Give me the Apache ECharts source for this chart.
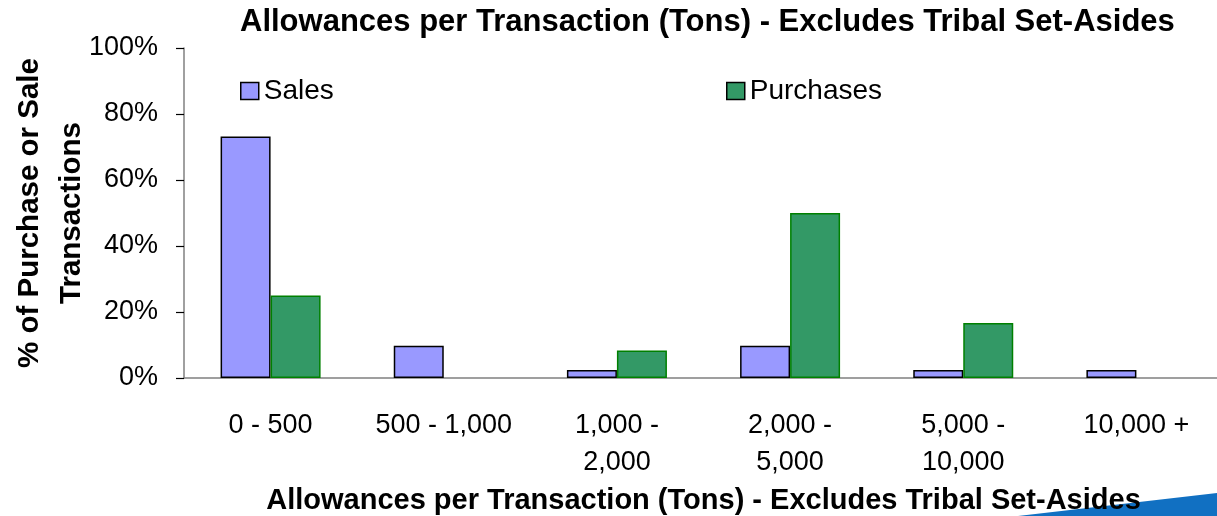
<!DOCTYPE html>
<html>
<head>
<meta charset="utf-8">
<script src="https://cdn.jsdelivr.net/npm/echarts@6/dist/echarts.min.js"></script>
<style>
  html, body { margin: 0; padding: 0; background: #fff; }
  #chart { width: 1217px; height: 516px; }
</style>
</head>
<body>
<div id="chart"></div>
<script>
const titleText = 'Allowances per Transaction (Tons) - Excludes Tribal Set-Asides'
const categories = ['0 - 500', '500 - 1,000', '1,000 -\n2,000', '2,000 -\n5,000', '5,000 -\n10,000', '10,000 +']
const salesPct = [73.2, 9.8, 2.4, 9.8, 2.4, 2.4]
// empty categories have no purchase bar in the picture
const purchasesPct = [25, null, 8.3, 50, 16.7, null]
const yTicks = [0, 20, 40, 60, 80, 100]

const font = '"Liberation Sans", Arial, sans-serif'
const chart = echarts.init(document.getElementById('chart'), null, { renderer: 'canvas' })

const legendBase = {
  top: 72,
  icon: 'rect',
  itemWidth: 18,
  itemHeight: 17,
  itemGap: 0,
  itemStyle: { borderColor: '#000', borderWidth: 1.5 },
  textStyle: { fontFamily: font, fontSize: 28, color: '#000', padding: [0, 0, 0, 0] }
}

chart.setOption({
  animation: false,
  textStyle: { fontFamily: font },
  title: {
    text: titleText,
    left: 235,
    top: 2,
    textStyle: { fontFamily: font, fontSize: 31, fontWeight: 'bold', color: '#000' }
  },
  legend: [
    Object.assign({}, legendBase, { data: ['Sales'], left: 235 }),
    Object.assign({}, legendBase, { data: ['Purchases'], left: 721 })
  ],
  grid: { left: 184, right: -6, top: 48, bottom: 138, outerBoundsMode: 'none', containLabel: false },
  xAxis: {
    type: 'category',
    data: categories,
    name: titleText,
    nameLocation: 'middle',
    nameGap: 108,
    nameTextStyle: { fontFamily: font, fontSize: 29, fontWeight: 'bold', color: '#000' },
    axisLine: { lineStyle: { color: '#808080', width: 1.5 } },
    axisTick: { length: 8, lineStyle: { color: '#000', width: 1.2 } },
    axisLabel: {
      margin: 29,
      fontFamily: font,
      fontSize: 27,
      lineHeight: 37,
      color: '#000',
      interval: 0
    }
  },
  yAxis: {
    type: 'value',
    min: yTicks[0],
    max: yTicks[yTicks.length - 1],
    interval: 20,
    name: '% of Purchase or Sale\nTransactions',
    nameLocation: 'middle',
    nameRotate: 90,
    nameGap: 91,
    nameMoveOverlap: false,
    nameTextStyle: { fontFamily: font, fontSize: 29.5, fontWeight: 'bold', color: '#000', lineHeight: 42 },
    axisLine: { show: true, lineStyle: { color: '#808080', width: 1.5 } },
    axisTick: { show: true, length: 8, lineStyle: { color: '#000', width: 1.2 } },
    splitLine: { show: false },
    axisLabel: {
      margin: 26,
      fontFamily: font,
      fontSize: 27,
      color: '#000',
      formatter: '{value}%'
    }
  },
  graphic: [
    {
      type: 'polygon',
      silent: true,
      shape: { points: [[1018, 516], [1217, 493], [1217, 516]] },
      style: { fill: '#1170c2' },
      z: -1
    }
  ],
  series: [
    {
      name: 'Sales',
      type: 'bar',
      data: salesPct,
      barWidth: 50,
      barGap: '0%',
      itemStyle: { color: '#9999ff', borderColor: '#000', borderWidth: 1.5 }
    },
    {
      name: 'Purchases',
      type: 'bar',
      data: purchasesPct,
      barWidth: 50,
      itemStyle: { color: '#339966', borderColor: '#008000', borderWidth: 1.5 }
    }
  ]
})
</script>
</body>
</html>
